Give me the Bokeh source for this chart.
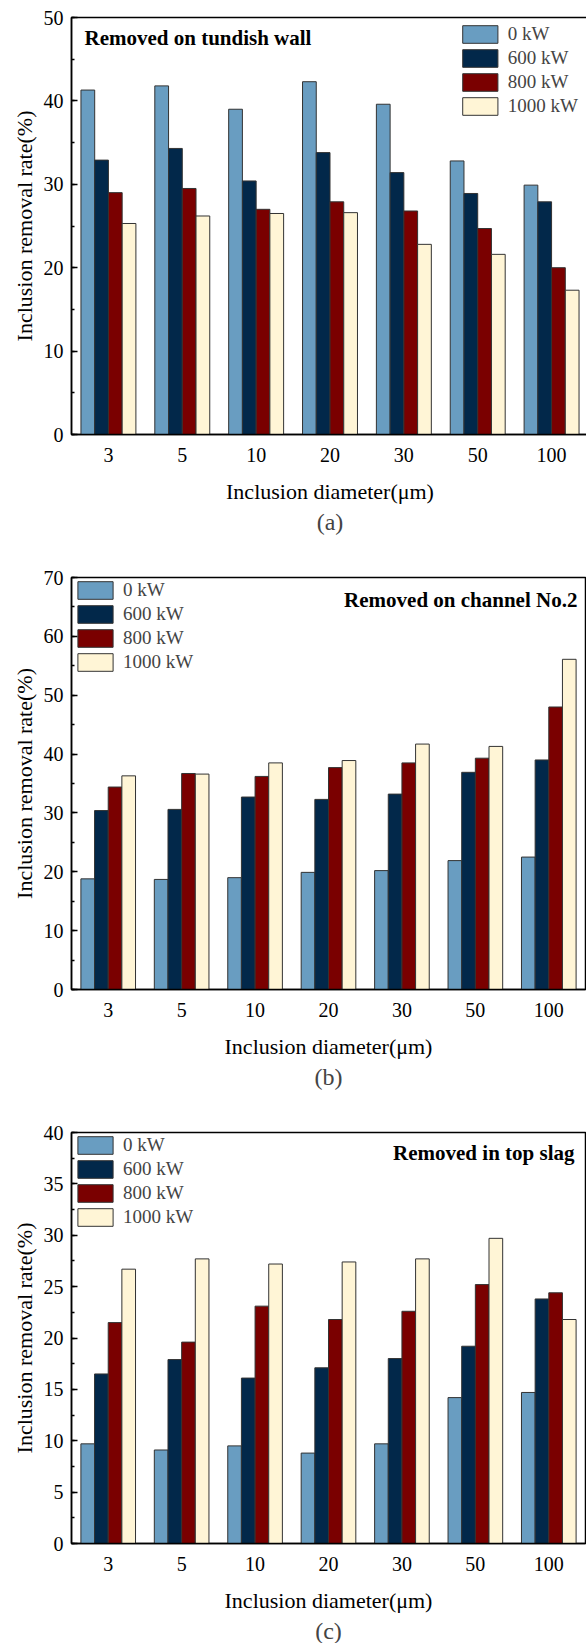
from bokeh.plotting import figure
from bokeh.models import (FactorRange, Range1d, SingleIntervalTicker, Label, Title,
                          ColumnDataSource, Legend)
from bokeh.transform import dodge
from bokeh.layouts import column
from bokeh.embed import file_html
from bokeh.resources import INLINE

# ---------------- data ----------------
diameters = ["3", "5", "10", "20", "30", "50", "100"]
power_labels = ["0 kW", "600 kW", "800 kW", "1000 kW"]

# (a) removed on tundish wall
wall_0kw = [41.3, 41.8, 39.0, 42.3, 39.6, 32.8, 29.9]
wall_600kw = [32.9, 34.3, 30.4, 33.8, 31.4, 28.9, 27.9]
wall_800kw = [29.0, 29.5, 27.0, 27.9, 26.8, 24.7, 20.0]
wall_1000kw = [25.3, 26.2, 26.5, 26.6, 22.8, 21.6, 17.3]

# (b) removed on channel No.2
chan_0kw = [18.8, 18.7, 19.0, 19.9, 20.2, 21.9, 22.5]
chan_600kw = [30.4, 30.6, 32.7, 32.3, 33.2, 36.9, 39.0]
chan_800kw = [34.4, 36.7, 36.2, 37.7, 38.5, 39.3, 48.0]
chan_1000kw = [36.3, 36.6, 38.5, 38.9, 41.7, 41.3, 56.1]

# (c) removed in top slag
slag_0kw = [9.7, 9.1, 9.5, 8.8, 9.7, 14.2, 14.7]
slag_600kw = [16.5, 17.9, 16.1, 17.1, 18.0, 19.2, 23.8]
slag_800kw = [21.5, 19.6, 23.1, 21.8, 22.6, 25.2, 24.4]
slag_1000kw = [26.7, 27.7, 27.2, 27.4, 27.7, 29.7, 21.8]

colors = ["#699dc1", "#02284a", "#7a0000", "#fff5d6"]
FONT = "Liberation Serif"


def make_panel(series, ymax, yint, tag, title, title_pos, legend_loc, legend_margin,
               top_border, bottom_border, left_border, frame_w, frame_h):
    src = ColumnDataSource(dict(d=diameters, s0=series[0], s1=series[1],
                                s2=series[2], s3=series[3]))
    p = figure(x_range=FactorRange(*diameters, range_padding=0),
               y_range=Range1d(0, ymax),
               frame_width=frame_w, frame_height=frame_h,
               min_border_left=left_border, min_border_right=586 - left_border - frame_w,
               min_border_top=top_border, min_border_bottom=bottom_border,
               output_backend="svg", toolbar_location=None,
               background_fill_color="white", border_fill_color="white")
    bw = 0.186
    offsets = [-1.5 * bw, -0.5 * bw, 0.5 * bw, 1.5 * bw]
    items = []
    for i in range(4):
        r = p.vbar(x=dodge("d", offsets[i], range=p.x_range), top="s%d" % i,
                   width=bw, source=src, fill_color=colors[i],
                   line_color="#333333", line_width=1)
        items.append((power_labels[i], [r]))
    leg = Legend(items=items, location=legend_loc, glyph_width=44, glyph_height=22,
                 label_height=22, spacing=2, padding=1, margin=legend_margin,
                 label_standoff=6, label_text_font=FONT, label_text_font_size="19px",
                 border_line_alpha=0, background_fill_alpha=0)
    p.add_layout(leg, "center")

    p.xgrid.visible = False
    p.ygrid.visible = False
    p.outline_line_color = "black"
    p.outline_line_width = 1.5
    p.outline_line_alpha = 1

    p.yaxis.ticker = SingleIntervalTicker(interval=yint, num_minor_ticks=2)
    for ax in (p.xaxis[0], p.yaxis[0]):
        ax.axis_line_width = 1.5
        ax.axis_line_color = "black"
        ax.major_label_text_font = FONT
        ax.major_label_text_font_size = "20px"
        ax.major_label_text_color = "black"
        ax.axis_label_text_font = FONT
        ax.axis_label_text_font_size = "22px"
        ax.axis_label_text_font_style = "normal"
        ax.axis_label_text_color = "black"
    p.xaxis.major_tick_line_color = None
    p.xaxis.minor_tick_line_color = None
    p.xaxis.major_label_standoff = 7
    p.xaxis.axis_label = "Inclusion diameter(\u03bcm)"
    p.xaxis.axis_label_standoff = 14
    p.yaxis.major_tick_in = 6
    p.yaxis.major_tick_out = 0
    p.yaxis.minor_tick_in = 3
    p.yaxis.minor_tick_out = 0
    p.yaxis.major_tick_line_width = 1.5
    p.yaxis.minor_tick_line_width = 1.5
    p.yaxis.major_label_standoff = 8
    p.yaxis.axis_label = "Inclusion removal rate(%)"
    p.yaxis.axis_label_standoff = 4

    p.add_layout(Title(text=tag, align="center", text_font=FONT,
                       text_font_size="24px", text_font_style="normal",
                       standoff=0), "below")

    tx, ty, align = title_pos
    p.add_layout(Label(x=tx, y=ty, text=title, text_font=FONT,
                       text_font_size="21px", text_font_style="bold",
                       text_align=align, text_baseline="middle",
                       text_color="black"))
    return p


pa = make_panel([wall_0kw, wall_600kw, wall_800kw, wall_1000kw], 50, 10, "(a)",
                "Removed on tundish wall", (0.176, 47.6, "left"), "top_right", 5,
                17, 116, 68, 517, 417)
pb = make_panel([chan_0kw, chan_600kw, chan_800kw, chan_1000kw], 70, 10, "(b)",
                "Removed on channel No.2", (6.89, 66.1, "right"), "top_left", 1,
                27, 113, 71, 514, 412)
pc = make_panel([slag_0kw, slag_600kw, slag_800kw, slag_1000kw], 40, 5, "(c)",
                "Removed in top slag", (6.85, 38.05, "right"), "top_left", 1,
                30, 99, 71, 514, 411)

layout = column(pa, pb, pc, spacing=0)
open("out.html", "w").write(file_html(layout, INLINE))
